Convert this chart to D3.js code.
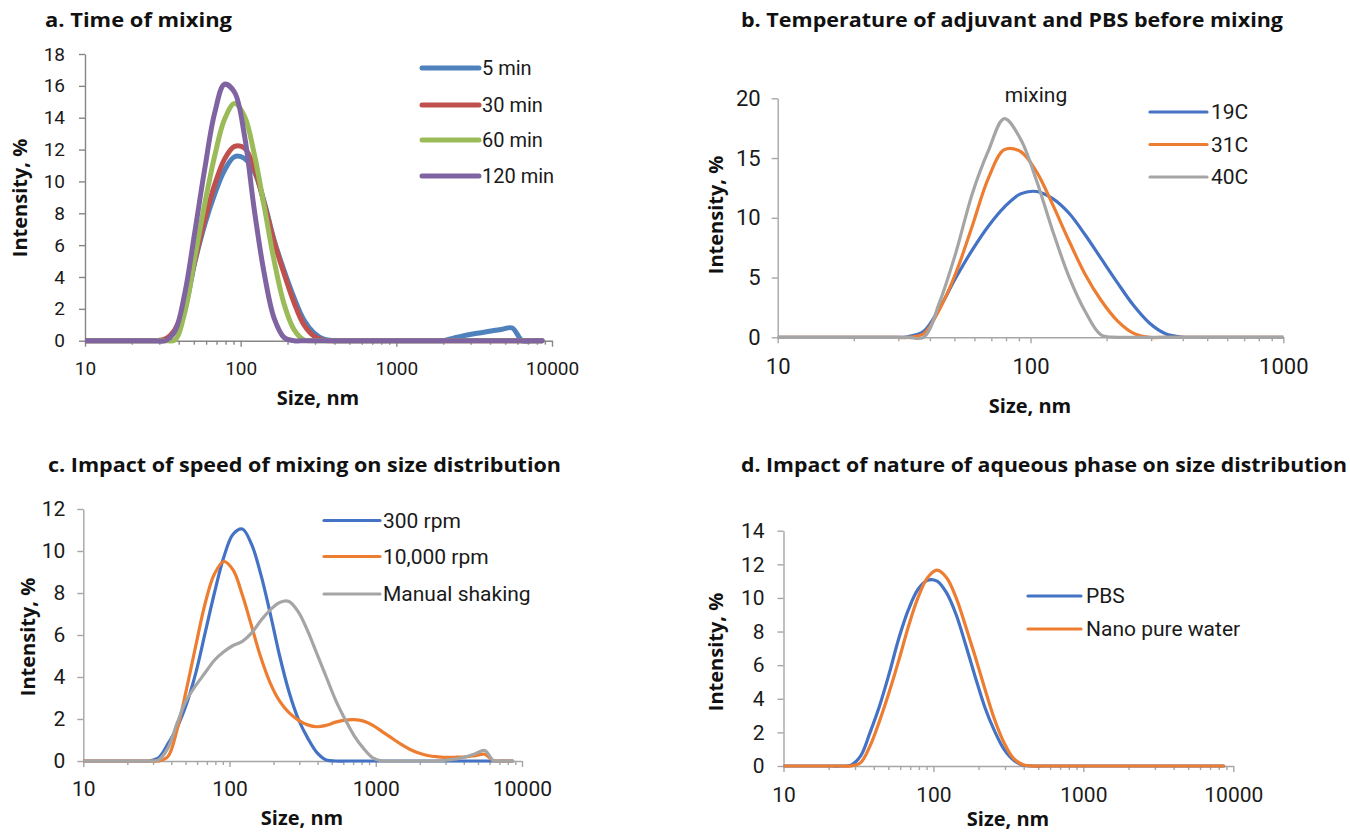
<!DOCTYPE html>
<html>
<head>
<meta charset="utf-8">
<script src="https://cdn.jsdelivr.net/npm/d3@7"></script>
<style>
  body { margin: 0; background: #fff; }
  svg text { font-family: Roboto, "Noto Sans", sans-serif; fill: #1a1a1a; }
  svg .title, svg .axis-title { font-family: "Open Sans", "Noto Sans", sans-serif; font-weight: 700; fill: #111; }
</style>
</head>
<body>
<svg id="chart" width="1350" height="833"></svg>
<script>
// DLS size bins, nm
const sizeBins = [10.1, 11.7, 13.5, 15.7, 18.2, 21.0, 24.4, 28.2, 32.7, 37.8,
    43.8, 50.7, 58.8, 68.1, 78.8, 91.3, 105.7, 122.4, 141.8, 164.2,
    190.1, 220.2, 255.0, 295.3, 342.0, 396.1, 458.7, 531.2, 615.1, 712.4,
    825.0, 955.4, 1106, 1281, 1484, 1718, 1990, 2305, 2669, 3091,
    3580, 4145, 4801, 5560, 6439, 7456, 8635];

// a. time of mixing
const timeLabels = ["5 min", "30 min", "60 min", "120 min"];
const time5 = [0, 0, 0, 0, 0, 0, 0, 0, 0.05, 0.6,
    2.0, 4.9, 7.3, 9.2, 10.7, 11.55, 11.45, 10.6, 8.7, 6.3,
    4.4, 2.7, 1.3, 0.5, 0.1, 0, 0, 0, 0, 0,
    0, 0, 0, 0, 0, 0, 0, 0.15, 0.3, 0.42,
    0.52, 0.62, 0.72, 0.8, 0, 0, 0];
const time30 = [0, 0, 0, 0, 0, 0, 0, 0, 0.1, 0.7,
    2.3, 5.0, 7.6, 9.8, 11.4, 12.2, 12.1, 10.8, 8.6, 6.2,
    4.2, 2.4, 1.0, 0.3, 0.02, 0, 0, 0, 0, 0,
    0, 0, 0, 0, 0, 0, 0, 0, 0, 0,
    0, 0, 0, 0, 0, 0, 0];
const time60 = [0, 0, 0, 0, 0, 0, 0, 0, 0, 0.05,
    1.8, 5.2, 8.6, 11.6, 13.9, 14.9, 14.1, 11.7, 8.4, 5.0,
    2.3, 0.7, 0.05, 0, 0, 0, 0, 0, 0, 0,
    0, 0, 0, 0, 0, 0, 0, 0, 0, 0,
    0, 0, 0, 0, 0, 0, 0];
const time120 = [0, 0, 0, 0, 0, 0, 0, 0, 0, 0.6,
    3.0, 6.8, 10.8, 14.3, 16.1, 15.6, 12.9, 8.2, 4.2, 1.4,
    0.2, 0, 0, 0, 0, 0, 0, 0, 0, 0,
    0, 0, 0, 0, 0, 0, 0, 0, 0, 0,
    0, 0, 0, 0, 0, 0, 0];

// b. temperature before mixing
const tempLabels = ["19C", "31C", "40C"];
const temp19 = [0, 0, 0, 0, 0, 0, 0, 0, 0.05, 0.5,
    2.5, 5.0, 7.3, 9.3, 10.9, 12.0, 12.2, 11.6, 10.4, 8.6,
    6.6, 4.6, 2.7, 1.2, 0.3, 0.02, 0, 0, 0, 0,
    0, 0, 0, 0, 0, 0, 0, 0, 0, 0,
    0, 0, 0, 0, 0, 0, 0];
const temp31 = [0, 0, 0, 0, 0, 0, 0, 0, 0, 0.3,
    2.4, 5.4, 9.3, 13.3, 15.7, 15.55, 13.85, 11.1, 8.1, 5.3,
    3.1, 1.4, 0.35, 0, 0, 0, 0, 0, 0, 0,
    0, 0, 0, 0, 0, 0, 0, 0, 0, 0,
    0, 0, 0, 0, 0, 0, 0];
const temp40 = [0, 0, 0, 0, 0, 0, 0, 0, 0, 0,
    3.0, 7.1, 12.0, 15.6, 18.3, 16.6, 13.1, 8.9, 5.1, 2.2,
    0.2, 0, 0, 0, 0, 0, 0, 0, 0, 0,
    0, 0, 0, 0, 0, 0, 0, 0, 0, 0,
    0, 0, 0, 0, 0, 0, 0];

// c. speed of mixing
const speedLabels = ["300 rpm", "10,000 rpm", "Manual shaking"];
const rpm300 = [0, 0, 0, 0, 0, 0, 0, 0, 0.15, 0.8,
    1.6, 2.7, 4.2, 6.1, 8.0, 9.7, 10.8, 11.05, 10.3, 8.85,
    7.0, 5.0, 3.3, 2.0, 1.1, 0.4, 0.05, 0, 0, 0,
    0, 0, 0, 0, 0, 0, 0, 0, 0, 0,
    0, 0, 0, 0, 0, 0, 0];
const rpm10000 = [0, 0, 0, 0, 0, 0, 0, 0, 0, 0.2,
    1.5, 3.4, 5.5, 7.5, 8.9, 9.5, 9.1, 7.9, 6.4, 4.9,
    3.7, 2.85, 2.3, 1.95, 1.72, 1.63, 1.7, 1.85, 1.95, 1.97,
    1.9, 1.7, 1.4, 1.1, 0.8, 0.55, 0.37, 0.25, 0.2, 0.17,
    0.18, 0.2, 0.26, 0.32, 0, 0, 0];
const manualShake = [0, 0, 0, 0, 0, 0, 0, 0, 0.05, 0.6,
    1.8, 2.9, 3.6, 4.2, 4.8, 5.2, 5.5, 5.7, 6.1, 6.7,
    7.2, 7.55, 7.6, 7.1, 6.2, 5.1, 4.0, 2.9, 2.0, 1.2,
    0.6, 0.15, 0, 0, 0, 0, 0, 0, 0, 0.05,
    0.1, 0.2, 0.35, 0.5, 0, 0, 0];

// d. aqueous phase
const phaseLabels = ["PBS", "Nano pure water"];
const pbs = [0, 0, 0, 0, 0, 0, 0, 0.05, 0.6, 2.0,
    3.6, 5.5, 7.6, 9.3, 10.5, 11.05, 11.0, 10.3, 9.0, 7.2,
    5.3, 3.5, 2.1, 1.0, 0.35, 0.05, 0, 0, 0, 0,
    0, 0, 0, 0, 0, 0, 0, 0, 0, 0,
    0, 0, 0, 0, 0, 0, 0];
const pureWater = [0, 0, 0, 0, 0, 0, 0, 0, 0.2, 1.2,
    2.7, 4.4, 6.3, 8.3, 10.0, 11.2, 11.65, 11.2, 10.0, 8.3,
    6.5, 4.6, 2.8, 1.4, 0.45, 0.08, 0, 0, 0, 0,
    0, 0, 0, 0, 0, 0, 0, 0, 0, 0,
    0, 0, 0, 0, 0, 0, 0];

// tick values
const xTicksWide = [10, 100, 1000, 10000];
const xTicksNarrow = [10, 100, 1000];
const yTicksA = [0, 2, 4, 6, 8, 10, 12, 14, 16, 18];
const yTicksB = [0, 5, 10, 15, 20];
const yTicksC = [0, 2, 4, 6, 8, 10, 12];
const yTicksD = [0, 2, 4, 6, 8, 10, 12, 14];

const excel07 = ["#4f81bd", "#c0504d", "#9bbb59", "#8064a2"];
const office13 = ["#4472c4", "#ed7d31", "#a5a5a5"];

const panels = [
    {
        id: "a", title: "a. Time of mixing", titleX: 45, titleY: 27, titleW: 187,
        xDomain: [10, 10000], xTicks: xTicksWide, yMax: 18, yTicks: yTicksA,
        left: 85, right: 552, top: 54, bottom: 340.7,
        series: [time5, time30, time60, time120], labels: timeLabels, colors: excel07,
        lineWidth: 5, axisColor: "#868686", tickFont: 19, xLabelOffset: 28, yPad: 14,
        xTitleX: 318, xTitleY: 405, yTitleX: 27, yTitleY: 198,
        legX: [422, 479], legTextX: 482, legY: [68, 105, 140, 176], legFont: 20
    },
    {
        id: "b", title: "b. Temperature of adjuvant and PBS before mixing", titleX: 741, titleY: 27, titleW: 542,
        xDomain: [10, 1000], xTicks: xTicksNarrow, yMax: 20, yTicks: yTicksB,
        left: 777.7, right: 1283.3, top: 98.3, bottom: 337.3,
        series: [temp19, temp31, temp40], labels: tempLabels, colors: office13,
        lineWidth: 3.2, axisColor: "#a6a6a6", tickFont: 22, xLabelOffset: 29.5, yPad: 11,
        xTitleX: 1030, xTitleY: 413, yTitleX: 723, yTitleY: 215,
        legX: [1150, 1207], legTextX: 1211, legY: [112, 144.5, 177], legFont: 21,
        note: { text: "mixing", x: 1036, y: 95 }
    },
    {
        id: "c", title: "c. Impact of speed of mixing on size distribution", titleX: 48, titleY: 472, titleW: 513,
        xDomain: [10, 10000], xTicks: xTicksWide, yMax: 12, yTicks: yTicksC,
        left: 83.3, right: 522, top: 509, bottom: 761,
        series: [rpm300, rpm10000, manualShake], labels: speedLabels, colors: office13,
        lineWidth: 3.2, axisColor: "#a6a6a6", tickFont: 21, xLabelOffset: 28, yPad: 12,
        xTitleX: 302, xTitleY: 825, yTitleX: 35, yTitleY: 637,
        legX: [324, 380], legTextX: 383, legY: [520.5, 556.5, 594], legFont: 21
    },
    {
        id: "d", title: "d. Impact of nature of aqueous phase on size distribution", titleX: 741, titleY: 472, titleW: 606,
        xDomain: [10, 10000], xTicks: xTicksWide, yMax: 14, yTicks: yTicksD,
        left: 783.5, right: 1233.3, top: 530.7, bottom: 766,
        series: [pbs, pureWater], labels: phaseLabels, colors: office13,
        lineWidth: 3.2, axisColor: "#a6a6a6", tickFont: 21, xLabelOffset: 29, yPad: 13,
        xTitleX: 1008, xTitleY: 826, yTitleX: 723, yTitleY: 652,
        legX: [1028, 1081], legTextX: 1086, legY: [596, 629], legFont: 21
    }
];

const svg = d3.select("#chart");

function drawPanel(p) {
    const g = svg.append("g").attr("class", "panel-" + p.id);

    const x = d3.scaleLog().domain(p.xDomain).range([p.left, p.right]);
    const y = d3.scaleLinear().domain([0, p.yMax]).range([p.bottom, p.top]);

    g.append("text")
        .attr("class", "title")
        .attr("x", p.titleX)
        .attr("y", p.titleY)
        .attr("font-size", 20)
        .attr("textLength", p.titleW)
        .attr("lengthAdjust", "spacingAndGlyphs")
        .text(p.title);

    // minor log ticks (no labels)
    const minor = x.ticks().filter(t => !p.xTicks.includes(t));
    g.append("g")
        .attr("class", "x-minor")
        .attr("transform", `translate(0,${p.bottom})`)
        .call(d3.axisBottom(x).tickValues(minor).tickSize(4).tickSizeOuter(0).tickFormat(""))
        .call(a => a.select(".domain").remove());

    const xAxis = g.append("g")
        .attr("class", "x-axis")
        .attr("transform", `translate(0,${p.bottom})`)
        .call(d3.axisBottom(x).tickValues(p.xTicks).tickSize(6).tickSizeOuter(0).tickFormat(d3.format("d")));
    xAxis.selectAll("text")
        .attr("y", p.xLabelOffset)
        .attr("dy", "0.35em")
        .attr("font-size", p.tickFont);

    const yAxis = g.append("g")
        .attr("class", "y-axis")
        .attr("transform", `translate(${p.left},0)`)
        .call(d3.axisLeft(y).tickValues(p.yTicks).tickSize(6).tickSizeOuter(0).tickPadding(p.yPad));
    yAxis.selectAll("text").attr("font-size", p.tickFont);

    g.selectAll(".domain, .tick line")
        .attr("stroke", p.axisColor)
        .attr("stroke-width", 1.4);
    g.selectAll(".tick text").attr("fill", "#1a1a1a").style("font-family", "Roboto, 'Noto Sans', sans-serif");

    // clip so lines stop at the axis ends
    g.append("clipPath")
        .attr("id", "clip-" + p.id)
        .append("rect")
        .attr("x", p.left)
        .attr("y", p.top - 10)
        .attr("width", p.right - p.left)
        .attr("height", p.bottom - p.top + 20);

    const line = d3.line()
        .x((d, i) => x(sizeBins[i]))
        .y(d => y(d))
        .curve(d3.curveCatmullRom);

    g.append("g")
        .attr("clip-path", `url(#clip-${p.id})`)
        .selectAll("path")
        .data(p.series)
        .enter()
        .append("path")
        .attr("d", d => line(d))
        .attr("fill", "none")
        .attr("stroke", (d, i) => p.colors[i])
        .attr("stroke-width", p.lineWidth)
        .attr("stroke-linejoin", "round")
        .attr("stroke-linecap", "round");

    // legend
    const leg = g.append("g").attr("class", "legend");
    p.labels.forEach((lab, i) => {
        leg.append("line")
            .attr("x1", p.legX[0]).attr("x2", p.legX[1])
            .attr("y1", p.legY[i]).attr("y2", p.legY[i])
            .attr("stroke", p.colors[i])
            .attr("stroke-width", p.lineWidth)
            .attr("stroke-linecap", "round");
        leg.append("text")
            .attr("x", p.legTextX)
            .attr("y", p.legY[i])
            .attr("dy", "0.35em")
            .attr("font-size", p.legFont)
            .text(lab);
    });

    if (p.note) {
        g.append("text")
            .attr("x", p.note.x)
            .attr("y", p.note.y)
            .attr("dy", "0.35em")
            .attr("text-anchor", "middle")
            .attr("font-size", 21)
            .text(p.note.text);
    }

    g.append("text")
        .attr("class", "axis-title")
        .attr("x", p.xTitleX)
        .attr("y", p.xTitleY)
        .attr("text-anchor", "middle")
        .attr("font-size", 20)
        .text("Size, nm");

    g.append("text")
        .attr("class", "axis-title")
        .attr("transform", `translate(${p.yTitleX},${p.yTitleY}) rotate(-90)`)
        .attr("text-anchor", "middle")
        .attr("font-size", 20)
        .text("Intensity, %");
}

panels.forEach(drawPanel);
</script>
</body>
</html>
